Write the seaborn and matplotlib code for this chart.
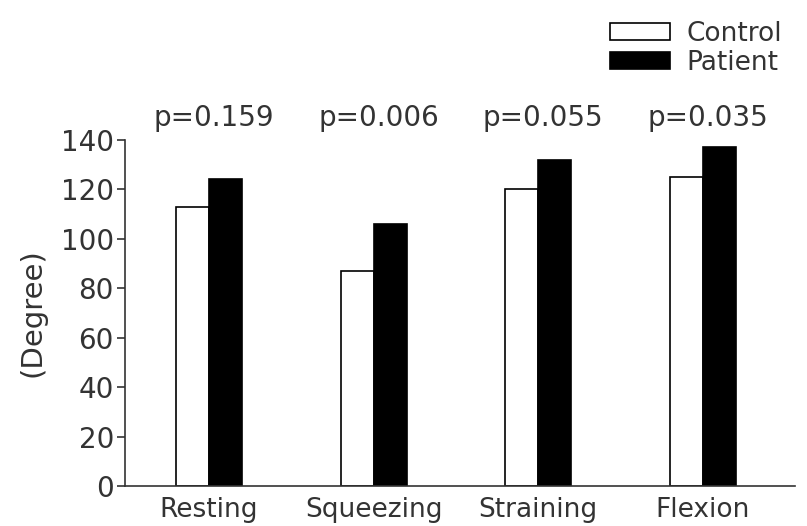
import matplotlib
matplotlib.use("Agg")
import matplotlib.pyplot as plt
import seaborn as sns
import pandas as pd

# values
positions = ["Resting", "Squeezing", "Straining", "Flexion"]
control = [113, 87, 120, 125]
patient = [124, 106, 132, 137]
p_values = ["p=0.159", "p=0.006", "p=0.055", "p=0.035"]
groups = ["Control", "Patient"]

df = pd.DataFrame({
    "Position": positions * 2,
    "Group": [groups[0]] * len(positions) + [groups[1]] * len(positions),
    "Degree": control + patient,
})

sns.set_style("ticks")
plt.rcParams["font.family"] = ["DejaVu Sans"]
ink = "#333333"

fig = plt.figure(figsize=(8.07, 5.26), dpi=100)
ax = fig.add_axes([0.155, 0.076, 0.83, 0.658])

sns.barplot(data=df, x="Position", y="Degree", hue="Group",
            palette={"Control": "white", "Patient": "black"},
            edgecolor="black", linewidth=1.2, width=0.4, ax=ax)

ax.set_ylim(0, 140)
ax.set_xlim(-0.51, 3.56)
ax.set_yticks(range(0, 141, 20))
ax.set_xlabel("")
ax.set_ylabel("(Degree)", fontsize=21, color=ink, labelpad=10)
ax.tick_params(axis="y", length=6, width=1.2, colors=ink, labelsize=20, pad=2)
ax.tick_params(axis="x", length=0, colors=ink, labelsize=19, pad=8)
sns.despine(ax=ax)
for side in ["left", "bottom"]:
    ax.spines[side].set_color(ink)
    ax.spines[side].set_linewidth(1.2)

for i, p in enumerate(p_values):
    ax.text(i + 0.03, 148.7, p, ha="center", va="center", fontsize=20,
            color=ink, clip_on=False)

sns.move_legend(ax, "upper right", bbox_to_anchor=(0.985, 0.985),
                bbox_transform=fig.transFigure, title=None, frameon=False,
                fontsize=19, handlelength=2.3, handleheight=0.6,
                handletextpad=0.6, labelspacing=0.1, borderpad=0,
                labelcolor=ink)

fig.savefig("out.png", dpi=100)
